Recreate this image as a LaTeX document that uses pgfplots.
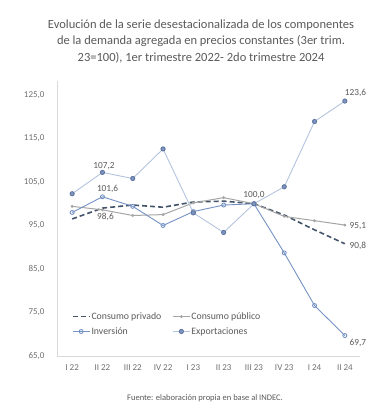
\documentclass[border=0pt]{standalone}
\usepackage{pgfplots}
\pgfplotsset{compat=1.18}
\usepackage{fontspec}
\setmainfont{Carlito}
\definecolor{txt}{HTML}{595959}
\definecolor{tick}{HTML}{6F6F6F}
\definecolor{priv}{HTML}{44546A}
\definecolor{pub}{HTML}{A5A5A5}
\definecolor{inv}{HTML}{7592C4}
\definecolor{expl}{HTML}{B4C3DE}
\definecolor{expm}{HTML}{7F96C4}
\definecolor{axl}{HTML}{D9D9D9}
\begin{document}
\begin{tikzpicture}
\path[use as bounding box] (0,0) rectangle (377pt,-409pt);
\node[txt,font=\fontsize{12.5}{14}\selectfont,anchor=base] at (201pt,-28.5pt) {Evolución de la serie desestacionalizada de los componentes};
\node[txt,font=\fontsize{12.5}{14}\selectfont,anchor=base] at (201pt,-45pt) {de la demanda agregada en precios constantes (3er trim.};
\node[txt,font=\fontsize{12.5}{14}\selectfont,anchor=base] at (201pt,-61.5pt) {23=100), 1er trimestre 2022- 2do trimestre 2024};
\begin{axis}[
  at={(57pt,-356pt)}, anchor=south west,
  scale only axis, width=303pt, height=274.5pt,
  xmin=-0.5, xmax=9.5, ymin=65, ymax=128.1,
  xtick={0,...,9},
  xticklabels={I 22,II 22,III 22,IV 22,I 23,II 23,III 23,IV 23,I 24,II 24},
  ytick={65,75,85,95,105,115,125},
  y tick label style={/pgf/number format/fixed,/pgf/number format/fixed zerofill,/pgf/number format/precision=1,/pgf/number format/use comma,/pgf/number format/assume math mode=true},
  ticklabel style={font=\fontsize{9}{10}\selectfont, text=tick},
  major tick length=0pt,
  axis x line*=bottom, axis y line*=left,
  x axis line style={axl,line width=0.8pt,-}, y axis line style={axl,line width=0.8pt,-},
  xticklabel style={yshift=-5pt},
  yticklabel style={xshift=-9pt},
  clip=false,
  legend style={at={(0.045,0.17)},anchor=north west,draw=none,fill=none,
    font=\fontsize{9.8}{11}\selectfont, text=txt, legend columns=2,
    inner sep=1pt,
    nodes={inner xsep=1pt},
    /tikz/every even column/.append style={column sep=10pt}, row sep=2.5pt},
  legend cell align=left,
]
\addplot[priv, line width=1.6pt, dash pattern=on 5pt off 3pt] coordinates {
(0,96.5) (1,99.0) (2,99.7) (3,99.2) (4,100.4) (5,100.6) (6,100.0) (7,97.4) (8,94.0) (9,90.8)};
\addlegendentry{Consumo privado}
\addplot[pub, line width=1pt, mark=*, mark size=0.9pt, mark options={fill=pub}] coordinates {
(0,99.4) (1,98.6) (2,97.3) (3,97.5) (4,100.2) (5,101.4) (6,100.0) (7,97.1) (8,96.1) (9,95.1)};
\addlegendentry{Consumo público}
\addplot[inv, line width=0.9pt, mark=o, mark size=2pt, mark options={fill=white}] coordinates {
(0,98.0) (1,101.6) (2,99.4) (3,95.0) (4,98.2) (5,99.7) (6,100.0) (7,88.7) (8,76.6) (9,69.7)};
\addlegendentry{Inversión}
\addplot[expl, line width=0.9pt, mark=*, mark size=2.1pt, mark options={fill=expm, draw=inv!80!black}] coordinates {
(0,102.3) (1,107.2) (2,105.8) (3,112.6) (4,97.9) (5,93.4) (6,100.0) (7,103.9) (8,118.9) (9,123.6)};
\addlegendentry{Exportaciones}
\begin{scope}[every node/.style={font=\fontsize{9.3}{10}\selectfont, text=txt, inner sep=0pt}]
\node at (axis cs:1.05,108.7) {107,2};
\node at (axis cs:1.17,103.4) {101,6};
\node at (axis cs:1.1,97.0) {98,6};
\node at (axis cs:6.0,102.1) {100,0};
\node at (axis cs:9.35,125.5) {123,6};
\node at (axis cs:9.43,94.9) {95,1};
\node at (axis cs:9.43,90.4) {90,8};
\node at (axis cs:9.43,68.0) {69,7};
\end{scope}
\end{axis}
\node[txt,font=\fontsize{8.5}{10}\selectfont,anchor=base] at (205pt,-400pt) {Fuente: elaboración propia en base al INDEC.};
\end{tikzpicture}
\end{document}
